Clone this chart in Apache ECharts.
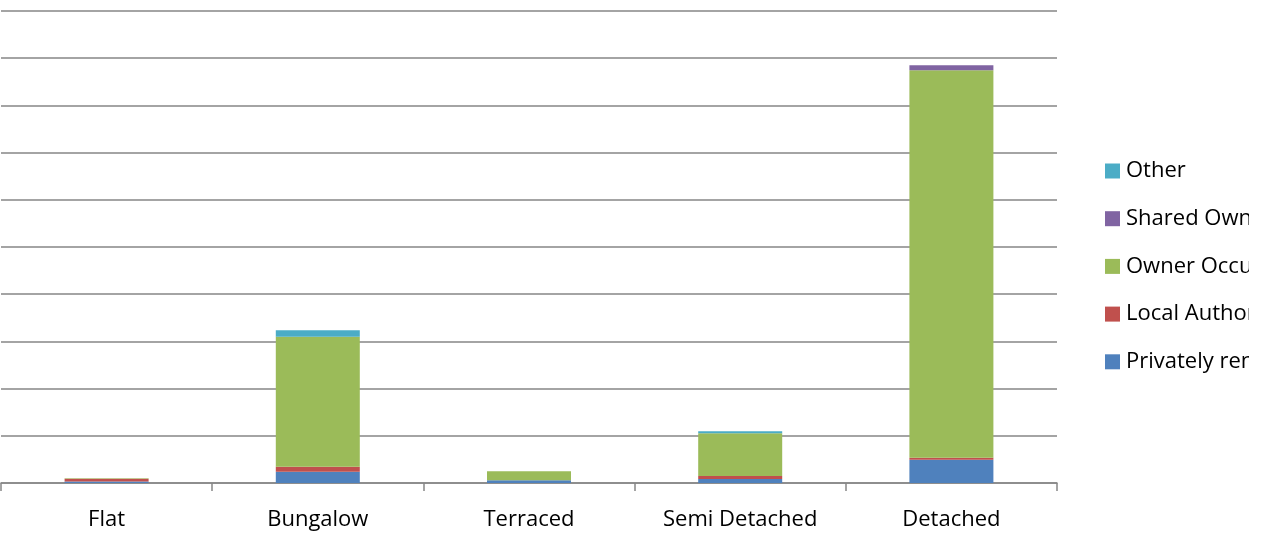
<!DOCTYPE html>
<html>
<head>
<meta charset="utf-8">
<script src="https://cdn.jsdelivr.net/npm/echarts@6/dist/echarts.min.js"></script>
<style>
html,body{margin:0;padding:0;background:#fff;overflow:hidden;}
#c{width:1249px;height:549px;}
</style>
</head>
<body>
<div id="c"></div>
<script>
const categories = ['Flat', 'Bungalow', 'Terraced', 'Semi Detached', 'Detached'];
const privatelyRented = [0.3, 2.4, 0.57, 0.85, 4.94];
const localAuthority = [0.6, 1.06, 0, 0.64, 0.42];
const ownerOccupied = [0.1, 27.5, 1.9, 9.05, 82.1];
const sharedOwnership = [0, 0, 0, 0, 1.06];
const other = [0, 1.4, 0, 0.42, 0];
const seriesNames = ['Privately rented', 'Local Authority', 'Owner Occupied', 'Shared Ownership', 'Other'];
const seriesColors = ['#4F81BD', '#C0504D', '#9BBB59', '#8064A2', '#4BACC6'];
const seriesData = [privatelyRented, localAuthority, ownerOccupied, sharedOwnership, other];

const chart = echarts.init(document.getElementById('c'));
chart.setOption({
  animation: false,
  legend: {
    orient: 'vertical',
    left: 1100,
    top: 155,
    itemWidth: 15,
    itemHeight: 15,
    itemGap: 25.7,
    icon: 'rect',
    data: seriesNames.slice().reverse(),
    textStyle: { fontSize: 22, lineHeight: 22, color: '#000', fontFamily: 'Open Sans', padding: [0, 0, 0, 1] }
  },
  grid: { left: 1, top: 11, width: 1056, height: 472, containLabel: false },
  xAxis: {
    type: 'category',
    data: categories,
    axisLine: { lineStyle: { color: '#868686', width: 1.5 } },
    axisTick: { show: true, length: 8, lineStyle: { color: '#868686', width: 1.5 } },
    axisLabel: { fontSize: 22, color: '#000', margin: 26, fontFamily: 'Open Sans' }
  },
  yAxis: {
    type: 'value',
    min: 0, max: 100, interval: 10,
    axisLabel: { show: false },
    axisLine: { show: false },
    axisTick: { show: false },
    splitLine: { lineStyle: { color: '#868686', width: 1.5 } }
  },
  series: seriesNames.map((n, i) => ({
    name: n,
    type: 'bar',
    stack: 'total',
    barWidth: 84,
    itemStyle: { color: seriesColors[i] },
    data: seriesData[i]
  }))
});
</script>
</body>
</html>
